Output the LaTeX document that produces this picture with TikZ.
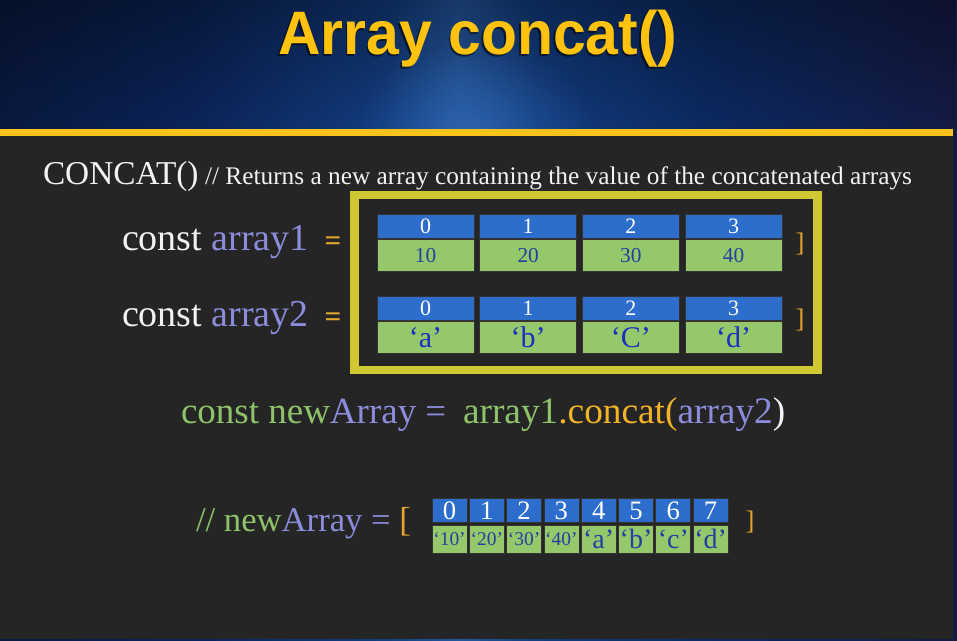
\documentclass[tikz,border=0pt]{standalone}
\usepackage{fontspec}
\usepackage{graphicx}
\setmainfont{Liberation Serif}
\newfontfamily\titlefont{Liberation Sans}
\usetikzlibrary{fadings}

% palette
\definecolor{bodybg}{HTML}{252525}
\definecolor{barYellow}{HTML}{FBC31C}
\definecolor{titleYellow}{HTML}{FFC20E}
\definecolor{frameOlive}{HTML}{CFC832}
\definecolor{cellBlue}{HTML}{2D6DCC}
\definecolor{cellGreen}{HTML}{95C86A}
\definecolor{valBlue}{HTML}{2340A0}
\definecolor{chrBlue}{HTML}{1D2EC0}
\definecolor{codeWhite}{HTML}{F2F2F2}
\definecolor{codeViolet}{HTML}{8C8CDC}
\definecolor{codeGreen}{HTML}{8FC36A}
\definecolor{codeOrange}{HTML}{F2B326}
\definecolor{bracketOrange}{HTML}{E3A52C}
\definecolor{glowBlue}{HTML}{3A72C0}

\pgfdeclarehorizontalshading{headerbg}{100bp}{
  color(0bp)=({rgb,255:red,7;green,12;blue,40});
  color(20bp)=({rgb,255:red,8;green,20;blue,51});
  color(35bp)=({rgb,255:red,12;green,36;blue,89});
  color(45bp)=({rgb,255:red,18;green,61;blue,128});
  color(49bp)=({rgb,255:red,37;green,88;blue,160});
  color(53bp)=({rgb,255:red,18;green,61;blue,128});
  color(62bp)=({rgb,255:red,12;green,42;blue,98});
  color(75bp)=({rgb,255:red,20;green,27;blue,69});
  color(88bp)=({rgb,255:red,36;green,25;blue,58});
  color(95bp)=({rgb,255:red,58;green,28;blue,51});
  color(100bp)=({rgb,255:red,90;green,34;blue,48})}

\tikzfading[name=glowfade, inner color=transparent!0, outer color=transparent!100]

\tikzset{
  code/.style={anchor=base west, inner sep=0pt, outer sep=0pt,
    font=\fontsize{28.5}{28}\selectfont},
  idxcell/.style={anchor=north west, inner sep=0pt, outer sep=0pt,
    fill=cellBlue, draw=black!80, line width=0.6pt,
    minimum width=72.75pt, minimum height=18.4pt, text=white,
    font=\fontsize{16.5}{16}\selectfont, text height=11pt, text depth=0pt},
  valcell/.style={anchor=north west, inner sep=0pt, outer sep=0pt,
    fill=cellGreen, draw=black!80, line width=0.6pt,
    minimum width=72.75pt, minimum height=24pt, text=valBlue,
    font=\fontsize{16}{16}\selectfont, text height=10.5pt, text depth=0pt},
  chrcell/.style={valcell, text=chrBlue,
    font=\fontsize{22.5}{22}\selectfont, text height=15pt, text depth=0pt},
  smallidx/.style={idxcell, minimum width=26.25pt, minimum height=18pt,
    font=\fontsize{20}{20}\selectfont, text height=13.5pt},
  smallval/.style={valcell, minimum width=26.25pt, minimum height=21pt,
    text=valBlue, font=\fontsize{14.6}{14}\selectfont, text height=10pt},
  smallchr/.style={smallval, font=\fontsize{21}{21}\selectfont, text height=14pt},
  eqsign/.style={inner sep=0pt, text=bracketOrange,
    font=\bfseries\fontsize{22}{22}\selectfont},
  closer/.style={inner sep=0pt, text=bracketOrange,
    font=\fontsize{20}{20}\selectfont},
}

\begin{document}
\begin{tikzpicture}[x=0.75pt,y=-0.75pt]
\useasboundingbox (0,0) rectangle (957,641);

% backdrop with the blue spotlight
\shade[shading=headerbg] (0,0) rectangle (957,641);
\fill[black, opacity=0.35, path fading=south] (0,0) rectangle (957,130);
\fill[glowBlue, opacity=0.45, path fading=glowfade] (475,128) ellipse (120 and 90);

% content panel and the yellow rule above it
\fill[bodybg] (0,136) rectangle (953,638.5);
\fill[barYellow] (0,129) rectangle (953,136.5);

% heading
\node[anchor=base, text=black, opacity=0.55, inner sep=0pt] (titleshadow) at (476.5,56.5)
  {\titlefont\bfseries\fontsize{46}{46}\selectfont\scalebox{0.96}[1]{Array concat()}};
\node[anchor=base, text=titleYellow, inner sep=0pt] (title) at (478,55)
  {\titlefont\bfseries\fontsize{46}{46}\selectfont\scalebox{0.96}[1]{Array concat()}};

% description line
\node[code, text=codeWhite, font=\fontsize{25}{25}\selectfont] (concat) at (43,185) {CONCAT()};
\node[code, text=codeWhite, font=\fontsize{19}{19}\selectfont] (desc) at (205,185)
  {// Returns a new array containing the value of the concatenated arrays};

% frame around both source arrays
\draw[frameOlive, line width=6.5pt] (354.5,195) rectangle (817.5,370);

% declarations
\node[code] (decl1) at (122,251) {\textcolor{codeWhite}{const} \textcolor{codeViolet}{array1}};
\node[eqsign] (eq1) at (333,244) {=};
\node[code] (decl2) at (122,327) {\textcolor{codeWhite}{const} \textcolor{codeViolet}{array2}};
\node[eqsign] (eq2) at (333,320) {=};

% array1 cells
\foreach \i/\v in {0/10,1/20,2/30,3/40}{
  \node[idxcell] (aI\i) at (377+102.7*\i,214) {\i};
  \node[valcell] (aV\i) at (377+102.7*\i,239.5) {\v};
}
\node[closer] (close1) at (800,244) {]};

% array2 cells
\foreach \i/\v in {0/‘a’,1/‘b’,2/‘C’,3/‘d’}{
  \node[idxcell] (bI\i) at (377+102.7*\i,296) {\i};
  \node[chrcell] (bV\i) at (377+102.7*\i,321.5) {\v};
}
\node[closer] (close2) at (800,320) {]};

% the concat call
\node[code, font=\fontsize{27.75}{28}\selectfont] (call1) at (181,424)
  {\textcolor{codeGreen}{const new}\textcolor{codeViolet}{Array =}};
\node[code, font=\fontsize{28}{28}\selectfont] (call2) at (463,424)
  {\textcolor{codeGreen}{array1}\textcolor{codeOrange}{.concat(}\textcolor{codeViolet}{array2}\textcolor{codeWhite}{)}};

% resulting array
\node[code, font=\fontsize{26}{26}\selectfont] (result) at (196,531)
  {\textcolor{codeGreen}{// new}\textcolor{codeViolet}{Array =} \textcolor{bracketOrange}{[}};
\foreach \i/\v/\s in {0/‘10’/smallval,1/‘20’/smallval,2/‘30’/smallval,3/‘40’/smallval,
                      4/‘a’/smallchr,5/‘b’/smallchr,6/‘c’/smallchr,7/‘d’/smallchr}{
  \node[smallidx] (cI\i) at (432+37.3*\i,498) {\i};
  \node[\s] (cV\i) at (432+37.3*\i,525) {\v};
}
\node[closer] (close3) at (750,522) {]};
\end{tikzpicture}
\end{document}
